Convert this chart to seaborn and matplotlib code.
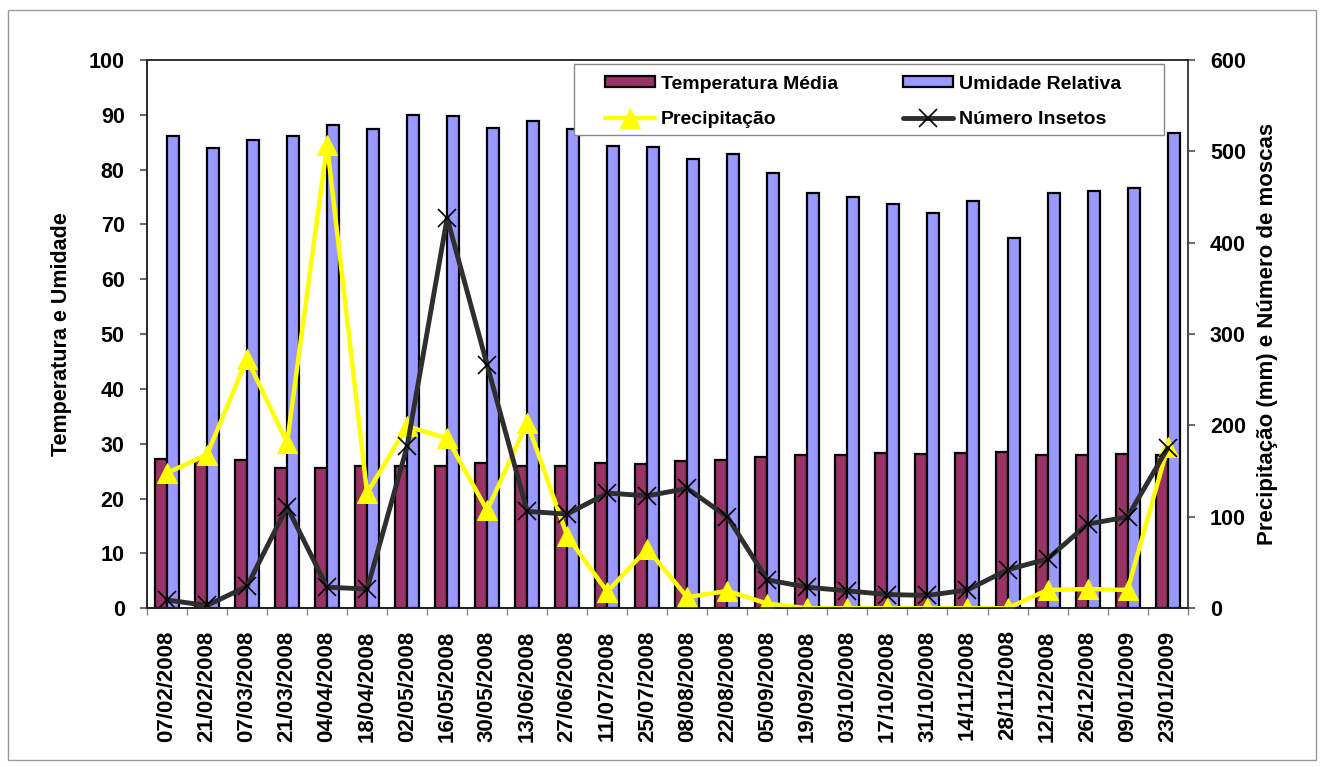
import numpy as np
import pandas as pd
import seaborn as sns
import matplotlib
matplotlib.use("Agg")
import matplotlib.pyplot as plt
from matplotlib.patches import Rectangle
from matplotlib.ticker import MultipleLocator, FixedLocator

# dados
datas = ['07/02/2008', '21/02/2008', '07/03/2008', '21/03/2008', '04/04/2008',
         '18/04/2008', '02/05/2008', '16/05/2008', '30/05/2008', '13/06/2008',
         '27/06/2008', '11/07/2008', '25/07/2008', '08/08/2008', '22/08/2008',
         '05/09/2008', '19/09/2008', '03/10/2008', '17/10/2008', '31/10/2008',
         '14/11/2008', '28/11/2008', '12/12/2008', '26/12/2008', '09/01/2009',
         '23/01/2009']
temperatura = [27.3, 27.0, 27.0, 25.6, 25.6, 26.0, 26.0, 26.0, 26.4, 25.9,
               26.0, 26.4, 26.3, 26.9, 27.0, 27.6, 27.9, 27.9, 28.3, 28.2,
               28.3, 28.5, 28.0, 28.0, 28.2, 28.0]
umidade = [86.2, 83.9, 85.4, 86.1, 88.1, 87.4, 89.9, 89.8, 87.6, 88.8,
           87.3, 84.2, 84.1, 81.9, 82.8, 79.3, 75.7, 75.0, 73.7, 72.1,
           74.3, 67.6, 75.7, 76.0, 76.6, 86.7]
precipitacao = [148, 168, 273, 181, 507, 126, 199, 186, 107, 203,
                79, 18, 65, 12, 19, 5, 0, 0, 0, 0,
                0, 0, 20, 21, 20, 176]
insetos = [9, 3, 24, 111, 23, 21, 177, 427, 266, 106,
           103, 126, 123, 131, 100, 31, 23, 19, 15, 14,
           20, 42, 54, 92, 100, 175]

sns.set_theme(style="white")
plt.rcParams['font.family'] = ['Liberation Sans', 'DejaVu Sans']
plt.rcParams['font.weight'] = 'bold'
for k in ['text.color', 'axes.labelcolor', 'xtick.labelcolor', 'ytick.labelcolor']:
    plt.rcParams[k] = 'black'

fig = plt.figure(figsize=(13.24, 7.67), dpi=100)
ax = fig.add_axes([0.111, 0.207, 0.786, 0.715])

barras = pd.DataFrame({
    'data': datas * 2,
    'valor': temperatura + umidade,
    'serie': ['Temperatura Média'] * len(datas) + ['Umidade Relativa'] * len(datas),
})
sns.barplot(data=barras, x='data', y='valor', hue='serie', order=datas,
            palette=['#993366', '#9999FF'], width=0.6, edgecolor='black',
            linewidth=1.6, saturation=1, ax=ax, legend=True)

ax.set_ylim(0, 100)
ax.set_xlim(-0.5, len(datas) - 0.5)
ax.yaxis.set_major_locator(MultipleLocator(10))
ax.set_ylabel('Temperatura e Umidade', fontsize=15.5, fontweight='bold', labelpad=12)
ax.set_xlabel('')
ax.tick_params(axis='x', which='major', length=0, rotation=90, labelsize=16, pad=16)
ax.xaxis.set_minor_locator(FixedLocator(np.arange(-0.5, len(datas), 1)))
ax.tick_params(axis='x', which='minor', length=5, direction='out', color='#888888', bottom=True)
ax.tick_params(axis='y', length=5, direction='out', left=True, labelsize=15.5,
               color='#555555', pad=11)
for lab in ax.get_xticklabels() + ax.get_yticklabels():
    lab.set_fontweight('bold')
ax.spines['top'].set_color('#888888')
ax.spines['bottom'].set_color('black')
ax.spines['left'].set_color('#444444')
ax.spines['right'].set_color('#444444')
h_bar, l_bar = ax.get_legend_handles_labels()
ax.get_legend().remove()

ax2 = ax.twinx()
x = np.arange(len(datas))
sns.lineplot(x=x, y=precipitacao, ax=ax2, color='#FFFF00', linewidth=3.2,
             marker='^', markersize=14, markeredgecolor='#FFFF00',
             label='Precipitação', sort=False)
sns.lineplot(x=x, y=insetos, ax=ax2, color='#2e2e2e', linewidth=3.5,
             marker='x', markersize=13, markeredgewidth=1.2,
             markeredgecolor='black', label='Número Insetos', sort=False)
ax2.set_ylim(0, 600)
ax2.yaxis.set_major_locator(MultipleLocator(100))
ax2.set_ylabel('Precipitação (mm) e Número de moscas', fontsize=16,
               fontweight='bold', labelpad=8)
ax2.tick_params(axis='y', length=5, direction='out', right=True, labelsize=15.5,
                color='#555555', pad=11)
for lab in ax2.get_yticklabels():
    lab.set_fontweight('bold')
ax2.grid(False)
ax2.spines['right'].set_color('#444444')
h_lin, l_lin = ax2.get_legend_handles_labels()

# moldura da legenda
ax2.add_patch(Rectangle((0.410, 0.863), 0.567, 0.130, transform=ax2.transAxes,
                        facecolor='white', edgecolor='#888888', linewidth=1,
                        zorder=4.5))
handles = [h_bar[0], h_lin[0], h_bar[1], h_lin[1]]
labels = [l_bar[0], l_lin[0], l_bar[1], l_lin[1]]
leg = ax2.legend(handles, labels, ncol=2, loc='upper left',
                 bbox_to_anchor=(0.44, 0.971), fontsize=14, frameon=False,
                 handlelength=2.6, handleheight=0.5, borderpad=0,
                 borderaxespad=0, labelspacing=0.95, handletextpad=0.3,
                 columnspacing=3.3)
leg.set_zorder(5)
for t in leg.get_texts():
    t.set_fontweight('bold')

fig.add_artist(Rectangle((0.006, 0.009), 0.988, 0.978, transform=fig.transFigure,
                         fill=False, edgecolor='#999999', linewidth=1))

fig.savefig('out.png', dpi=100)
